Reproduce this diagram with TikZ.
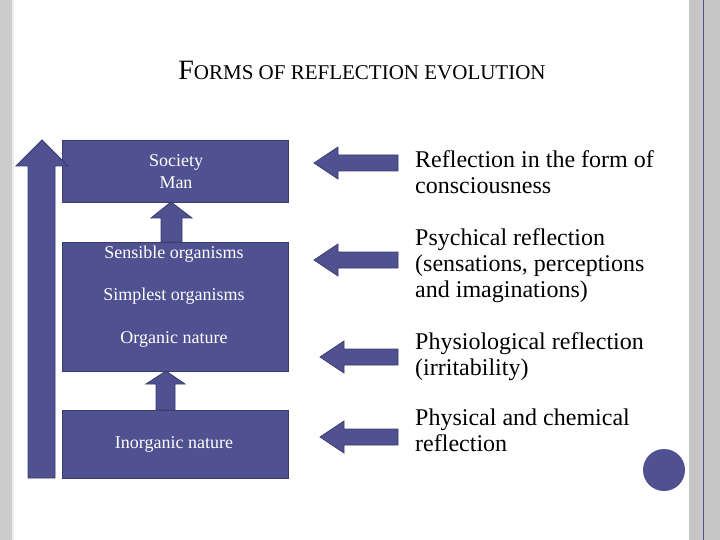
\documentclass[tikz,border=0pt]{standalone}
\usepackage{fontspec}
\setmainfont{Liberation Serif}
\begin{document}
\begin{tikzpicture}[x=1pt,y=-1pt,
  blk/.style={fill=boxc,draw=boxd,line width=0.8pt},
  boxt/.style={text=white,font=\fontsize{18}{22}\selectfont,align=center},
  rt/.style={anchor=north west,align=left,font=\fontsize{24}{26}\selectfont,inner sep=0pt}]
\definecolor{boxc}{HTML}{4F5190}
\definecolor{boxd}{HTML}{3A3C6E}
\useasboundingbox (0,0) rectangle (720,540);
\fill[white] (0,0) rectangle (720,540);
\fill[gray!40] (0,0) rectangle (12,540);
\fill[gray!15] (12,0) rectangle (14,540);
\fill[gray!45] (689,0) rectangle (720,540);
\draw[boxc,line width=1pt] (703,0) -- (703,540);
\node[font=\fontsize{28}{30}\selectfont] (title) at (362,70) {F\fontsize{21}{24}\selectfont ORMS OF REFLECTION EVOLUTION};
% boxes
\node[blk,minimum width=226,minimum height=62,anchor=north west] (b1) at (62,140) {};
\node[boxt,anchor=center] (t1) at (176,172) {Society\\Man};
\node[blk,minimum width=226,minimum height=129,anchor=north west] (b2) at (62,242) {};
\node[boxt] (t2) at (174,254) {Sensible organisms};
\node[boxt] (t3) at (174,296) {Simplest organisms};
\node[boxt] (t4) at (174,339) {Organic nature};
\node[blk,minimum width=226,minimum height=68,anchor=north west] (b3) at (62,410) {};
\node[boxt] (t5) at (174,444) {Inorganic nature};
% big arrow
\draw[blk] (28,478) -- (28,166) -- (16,166) -- (42,140) -- (68,166) -- (55,166) -- (55,478) -- cycle;
% small arrows
\draw[blk] (161,242) -- (161,218) -- (151,218) -- (171,202) -- (192,218) -- (182,218) -- (182,242) -- cycle;
\draw[blk] (156,410) -- (156,384) -- (146,384) -- (166,371) -- (185,384) -- (175,384) -- (175,410) -- cycle;
% left arrows
\foreach \y/\tx in {163/314,260/314,357/320,437/320}{
  \draw[blk] (\tx,\y) -- (\tx+24,\y-16) -- (\tx+24,\y-8) -- (398,\y-8) -- (398,\y+8) -- (\tx+24,\y+8) -- (\tx+24,\y+16) -- cycle;
}
\node[rt] (r1) at (415,150) {Reflection in the form of\\consciousness};
\node[rt] (r2) at (415,228) {Psychical reflection\\(sensations, perceptions\\and imaginations)};
\node[rt] (r3) at (415,332) {Physiological reflection\\(irritability)};
\node[rt] (r4) at (415,409) {Physical and chemical\\reflection};
\fill[boxc] (664,470) circle (21);
\end{tikzpicture}
\end{document}
